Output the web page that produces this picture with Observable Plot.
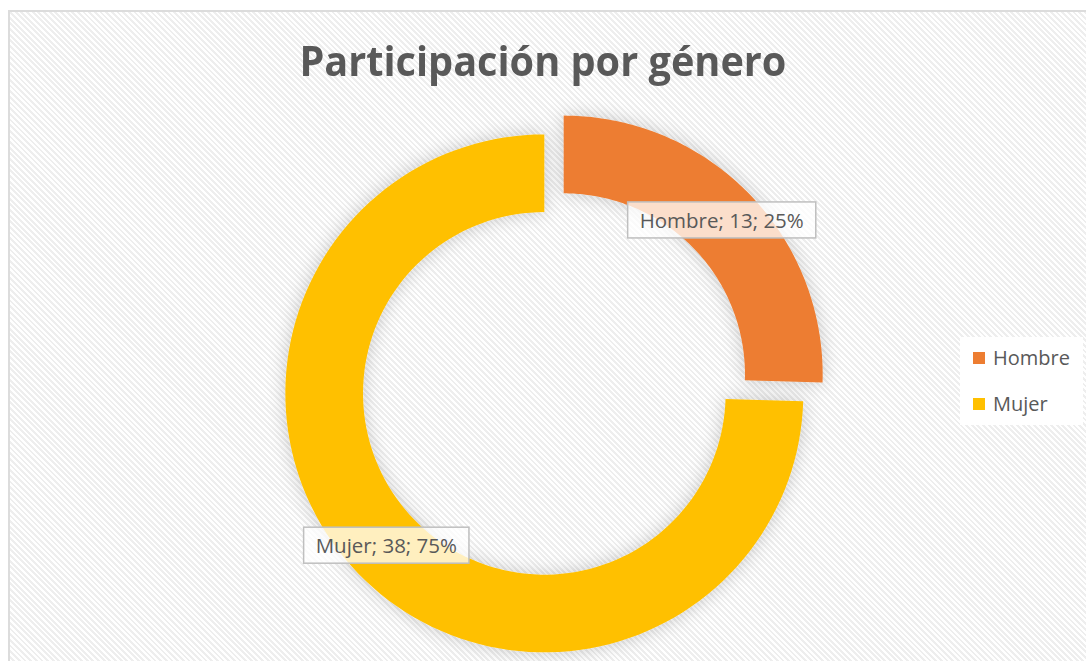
<!DOCTYPE html>
<html><head><meta charset="utf-8">
<script src="https://cdn.jsdelivr.net/npm/d3@7"></script>
<script src="https://cdn.jsdelivr.net/npm/@observablehq/plot@0.6"></script>
<style>
body{margin:0;background:#fff;}
#wrap{position:relative;width:1086px;height:661px;overflow:hidden;font-family:"Open Sans",sans-serif;}
#frame{position:absolute;left:8px;top:10px;width:1100px;height:700px;border:2px solid #dcdcdc;
  background:repeating-linear-gradient(45deg,#ffffff 0px,#ffffff 2px,#eeeeee 2px,#eeeeee 4px);}
#title{position:absolute;left:0;top:31px;width:1086px;text-align:center;color:#595959;font-weight:700;font-size:42px;white-space:nowrap;}
#title span{display:inline-block;transform-origin:center;}
#plot{position:absolute;left:0;top:0;}
#legend{position:absolute;left:960px;top:337px;width:123px;height:88px;background:#fff;color:#595959;font-size:20px;}
.li{position:absolute;left:13px;display:flex;align-items:center;}
.sw{width:12px;height:12px;margin-right:8px;}
</style></head>
<body>
<div id="wrap">
  <div id="frame"></div>
  <div id="title"><span>Participación por género</span></div>
  <div id="plot"></div>
  <div id="legend"></div>
</div>
<script>
const categories = ["Hombre", "Mujer"];
const values = [13, 38];
const colors = ["#ED7D31", "#FFC000"];

const W = 1086, H = 661;
const cx = 553.5, cy = 383.5, R = 259;
const hole = 0.70, explode = 0.052;

const total = d3.sum(values);
const pct = d3.format(".0%");
let acc = 0;
const slices = categories.map((c, i) => {
  const a0 = acc / total * 2 * Math.PI;
  acc += values[i];
  const a1 = acc / total * 2 * Math.PI;
  return {cat: c, value: values[i], a0, a1, mid: (a0 + a1) / 2, share: values[i] / total};
});

const pts = [];
for (const s of slices) {
  const ox = explode * Math.sin(s.mid), oy = explode * Math.cos(s.mid);
  const n = 120;
  for (let k = 0; k <= n; k++) {
    const a = s.a0 + (s.a1 - s.a0) * k / n;
    pts.push({cat: s.cat, x: ox + Math.sin(a), y: oy + Math.cos(a)});
  }
  for (let k = n; k >= 0; k--) {
    const a = s.a0 + (s.a1 - s.a0) * k / n;
    pts.push({cat: s.cat, x: ox + hole * Math.sin(a), y: oy + hole * Math.cos(a)});
  }
}
const labelR = (1 + hole) / 2 + explode;
const labels = slices.map(s => ({
  x: labelR * Math.sin(s.mid), y: labelR * Math.cos(s.mid),
  text: `${s.cat}; ${s.value}; ${pct(s.share)}`
}));

const plot = Plot.plot({
  width: W, height: H,
  margin: 0,
  style: {background: "transparent", overflow: "visible"},
  x: {domain: [-cx / R, (W - cx) / R], range: [0, W], axis: null},
  y: {domain: [-(H - cy) / R, cy / R], range: [H, 0], axis: null},
  color: {domain: categories, range: colors},
  marks: [
    Plot.line(pts, {x: "x", y: "y", z: "cat", fill: "cat", stroke: "none", curve: "linear"}),
    Plot.text(labels, {x: "x", y: "y", text: "text", fontSize: 20.5, fill: "#595959", fontFamily: "Open Sans"})
  ]
});
document.getElementById("plot").appendChild(plot);

const svg = d3.select(plot);
const ring = svg.select('g[aria-label="line"]');

// shadow filter
const defs = svg.append("defs");
defs.append("filter").attr("id", "sh").attr("x", "-30%").attr("y", "-30%").attr("width", "160%").attr("height", "160%")
  .append("feDropShadow").attr("dx", 0).attr("dy", 0).attr("stdDeviation", 9)
  .attr("flood-color", "#000").attr("flood-opacity", 0.2);
ring.attr("filter", "url(#sh)");

// label boxes
svg.selectAll('g[aria-label="text"] text').each(function() {
  const b = this.getBBox();
  const tr = this.getAttribute("transform");
  const r = d3.select(this.parentNode).insert("rect", () => this)
    .attr("x", b.x - 12).attr("y", b.y - 4).attr("width", b.width + 24).attr("height", b.height + 8)
    .attr("fill", "#fff").attr("fill-opacity", 0.75).attr("stroke", "#bfbfbf").attr("stroke-width", 1.5);
  if (tr) r.attr("transform", tr);
});

// title fit
const ts = document.querySelector("#title span");
const tw = ts.getBoundingClientRect().width;
ts.style.transform = `scaleX(${487 / tw})`;

// legend
const lg = d3.select("#legend");
categories.forEach((c, i) => {
  const it = lg.append("div").attr("class", "li").style("top", (i === 0 ? 7 : 53) + "px");
  it.append("div").attr("class", "sw").style("background", colors[i]);
  it.append("span").text(c);
});
</script>
</body></html>
